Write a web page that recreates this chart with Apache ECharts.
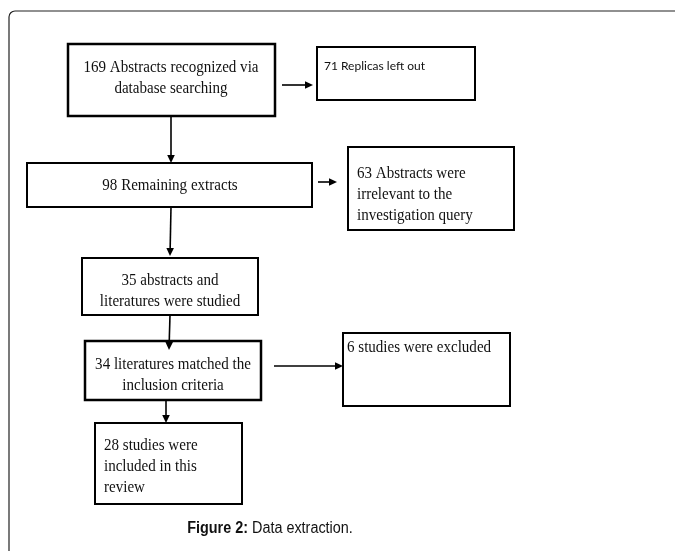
<!DOCTYPE html>
<html>
<head>
<meta charset="utf-8">
<script src="https://cdn.jsdelivr.net/npm/echarts@6/dist/echarts.min.js"></script>
<style>
html,body{margin:0;padding:0;background:#fff;}
#c{width:675px;height:551px;}
</style>
</head>
<body>
<div id="c"></div>
<script>
// Flowchart content
var boxTexts = [
  '169 Abstracts recognized via\ndatabase searching',
  '71 Replicas left out',
  '98 Remaining extracts',
  '63 Abstracts were\nirrelevant to the\ninvestigation query',
  '35 abstracts and\nliteratures were studied',
  '34 literatures matched the\ninclusion criteria',
  '6 studies were excluded',
  '28 studies were\nincluded in this\nreview'
];
var captionBold = 'Figure 2:';
var captionText = ' Data extraction.';
// box extents [x0, y0, x1, y1] in layout units
var boxRects = [
  [68, 44, 275, 116],
  [317, 47, 475, 100],
  [27, 163, 312, 207],
  [348, 147, 514, 230],
  [82, 258, 258, 315],
  [85, 341, 261, 400],
  [343, 333, 510, 406],
  [95, 423, 242, 504]
];
// text anchor [x, y, align, verticalAlign, font]
var boxTextAnchors = [
  [171, 78, 'center', 'middle', 'serif'],
  [324, 59, 'left', 'top', 'sans'],
  [170, 186, 'center', 'middle', 'serif'],
  [357, 163, 'left', 'top', 'serif'],
  [170, 291, 'center', 'middle', 'serif'],
  [173, 375.5, 'center', 'middle', 'serif'],
  [347, 337, 'left', 'top', 'serif'],
  [104, 435, 'left', 'top', 'serif']
];
var boxBorder = [2.5, 2, 2, 2, 2, 2.5, 2, 2];
// arrows [x0, y0, x1, y1]
var arrows = [
  [282, 85, 313, 85],
  [171, 116, 171, 163],
  [318, 182, 337, 182],
  [171, 207, 170, 256],
  [170, 315, 169, 350],
  [274, 366, 343, 366],
  [166, 400, 166, 423]
];

var boxData = boxRects.map(function (r, i) {
  return [r[0], r[1], r[2], r[3], i];
});

var chart = echarts.init(document.getElementById('c'), null, {renderer: 'canvas'});
chart.setOption({
  backgroundColor: '#ffffff',
  animation: false,
  grid: {left: 0, right: 0, top: 0, bottom: 0},
  xAxis: {type: 'value', min: 0, max: 675, show: false},
  yAxis: {type: 'value', min: 0, max: 551, inverse: true, show: false},
  graphic: [{
    type: 'rect',
    shape: {x: 9, y: 11, width: 720, height: 600, r: 6},
    style: {fill: 'none', stroke: '#222', lineWidth: 1.2},
    silent: true,
    z: -10
  }, {
    type: 'text',
    x: 270,
    y: 529,
    scaleX: 0.9,
    style: {
      text: '{b|' + captionBold + '}' + captionText,
      font: '16px "Liberation Sans"',
      fill: '#111',
      align: 'center',
      verticalAlign: 'middle',
      rich: {b: {font: 'bold 16px "Liberation Sans"', fill: '#111'}}
    }
  }],
  series: [{
    type: 'custom',
    coordinateSystem: 'cartesian2d',
    data: boxData,
    encode: {x: [0, 2], y: [1, 3]},
    renderItem: function (params, api) {
      var i = api.value(4);
      var p0 = api.coord([api.value(0), api.value(1)]);
      var p1 = api.coord([api.value(2), api.value(3)]);
      var a = boxTextAnchors[i];
      var tp = api.coord([a[0], a[1]]);
      var serif = a[4] === 'serif';
      return {
        type: 'group',
        children: [{
          type: 'rect',
          shape: {x: p0[0], y: p0[1], width: p1[0] - p0[0], height: p1[1] - p0[1]},
          style: {fill: '#fff', stroke: '#000', lineWidth: boxBorder[i]}
        }, {
          type: 'text',
          x: tp[0],
          y: tp[1],
          scaleX: serif ? 0.94 : 1,
          style: {
            text: boxTexts[i],
            fill: '#111',
            font: serif ? '16px "Liberation Serif"' : '12px "Lato"',
            lineHeight: serif ? 21 : 14,
            align: a[2],
            verticalAlign: a[3]
          }
        }]
      };
    }
  }, {
    type: 'custom',
    coordinateSystem: 'cartesian2d',
    data: arrows,
    encode: {x: [0, 2], y: [1, 3]},
    renderItem: function (params, api) {
      var s = api.coord([api.value(0), api.value(1)]);
      var e = api.coord([api.value(2), api.value(3)]);
      var dx = e[0] - s[0], dy = e[1] - s[1];
      var len = Math.sqrt(dx * dx + dy * dy);
      var ux = dx / len, uy = dy / len;
      var hl = 8, hw = 3.8;
      var bx = e[0] - ux * hl, by = e[1] - uy * hl;
      return {
        type: 'group',
        children: [{
          type: 'line',
          shape: {x1: s[0], y1: s[1], x2: bx, y2: by},
          style: {stroke: '#000', lineWidth: 1.6}
        }, {
          type: 'polygon',
          shape: {points: [[e[0], e[1]], [bx - uy * hw, by + ux * hw], [bx + uy * hw, by - ux * hw]]},
          style: {fill: '#000'}
        }]
      };
    }
  }]
});
</script>
</body>
</html>
